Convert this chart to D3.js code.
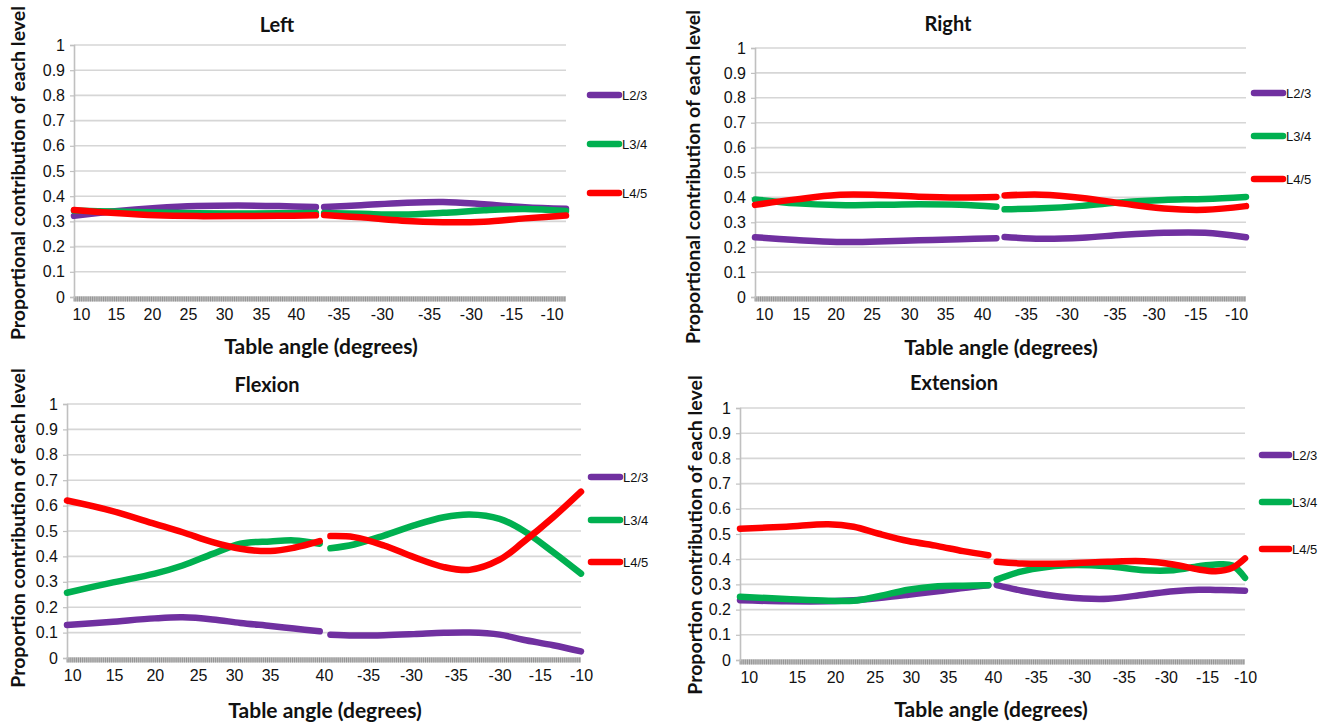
<!DOCTYPE html>
<html>
<head>
<meta charset="utf-8">
<script src="https://cdn.jsdelivr.net/npm/d3@7/dist/d3.min.js"></script>
<style>
  html, body { margin: 0; padding: 0; background: #ffffff; }
  svg { display: block; }
</style>
</head>
<body>
<svg id="chart" width="1322" height="722"></svg>
<script>
// ---------------- DATA ----------------
const seriesNames = ["L2/3", "L3/4", "L4/5"];
const xTickLabels = ["10", "15", "20", "25", "30", "35", "40", "-35", "-30", "-35", "-30", "-15", "-10"];
const yTickValues = [0, 0.1, 0.2, 0.3, 0.4, 0.5, 0.6, 0.7, 0.8, 0.9, 1];
const categoryCount = 120; // category index range 0..120 on each panel's x axis

// Left
const leftTickIdx = [1.7, 10.2, 19, 27.8, 36.6, 45.6, 54.1, 64.5, 75.1, 86.6, 96.8, 106.6, 116.5];
const leftIdxA = [0, 10, 20, 30, 40, 50, 59];
const leftIdxB = [61, 70, 80, 90, 100, 110, 120];
const leftL23A = [0.322, 0.340, 0.353, 0.361, 0.363, 0.361, 0.357];
const leftL23B = [0.357, 0.364, 0.373, 0.377, 0.368, 0.356, 0.350];
const leftL34A = [0.343, 0.339, 0.335, 0.332, 0.331, 0.332, 0.333];
const leftL34B = [0.333, 0.330, 0.327, 0.334, 0.344, 0.349, 0.341];
const leftL45A = [0.345, 0.333, 0.324, 0.321, 0.321, 0.322, 0.324];
const leftL45B = [0.325, 0.316, 0.303, 0.297, 0.299, 0.312, 0.323];

// Right
const rightTickIdx = [2.2, 11.2, 19.7, 28.5, 37.7, 46.5, 55.5, 66.2, 76.2, 87.9, 97.4, 107.6, 117.6];
const rightIdxA = [0, 10, 20, 30, 40, 50, 59];
const rightIdxB = [61, 70, 80, 90, 100, 110, 120];
const rightL23A = [0.240, 0.229, 0.221, 0.223, 0.228, 0.232, 0.236];
const rightL23B = [0.241, 0.234, 0.238, 0.250, 0.258, 0.258, 0.240];
const rightL34A = [0.392, 0.376, 0.369, 0.370, 0.372, 0.370, 0.362];
const rightL34B = [0.352, 0.356, 0.366, 0.381, 0.390, 0.394, 0.402];
const rightL45A = [0.370, 0.392, 0.410, 0.410, 0.403, 0.400, 0.402];
const rightL45B = [0.408, 0.411, 0.398, 0.375, 0.355, 0.350, 0.365];

// Flexion
const flexTickIdx = [1.2, 11, 20.5, 30.6, 39, 47.4, 60, 70.3, 80.3, 90.8, 101, 110.4, 120];
const flexIdxA = [0, 10, 20.5, 27, 34, 40.5, 47.5, 53, 59];
const flexIdxB = [61.5, 67, 74, 81, 88, 94, 101, 106.5, 113.5, 120];
const flexL23A = [0.130, 0.142, 0.156, 0.160, 0.152, 0.138, 0.126, 0.116, 0.105];
const flexL23B = [0.092, 0.089, 0.090, 0.094, 0.099, 0.100, 0.092, 0.072, 0.050, 0.026];
const flexL34A = [0.257, 0.295, 0.332, 0.364, 0.410, 0.450, 0.459, 0.463, 0.450];
const flexL34B = [0.432, 0.447, 0.482, 0.522, 0.554, 0.565, 0.548, 0.502, 0.417, 0.332];
const flexL45A = [0.620, 0.581, 0.528, 0.495, 0.456, 0.430, 0.421, 0.434, 0.460];
const flexL45B = [0.480, 0.476, 0.443, 0.397, 0.358, 0.347, 0.387, 0.456, 0.554, 0.655];

// Extension
const extTickIdx = [2.1, 13.5, 22.6, 32, 40.6, 49.4, 60.1, 70.3, 80.6, 91.2, 101.2, 111, 120];
const extIdxA = [0, 11, 21, 27, 33, 40, 47, 53, 59];
const extIdxB = [61, 67, 77.5, 87.5, 96, 103, 109, 113, 117, 120];
const extL23A = [0.237, 0.233, 0.233, 0.237, 0.246, 0.259, 0.273, 0.286, 0.297];
const extL23B = [0.297, 0.275, 0.249, 0.243, 0.259, 0.273, 0.279, 0.278, 0.277, 0.275];
const extL34A = [0.251, 0.242, 0.235, 0.235, 0.253, 0.279, 0.293, 0.295, 0.297];
const extL34B = [0.319, 0.352, 0.376, 0.372, 0.356, 0.356, 0.372, 0.379, 0.375, 0.326];
const extL45A = [0.521, 0.529, 0.539, 0.529, 0.501, 0.472, 0.452, 0.432, 0.416];
const extL45B = [0.390, 0.383, 0.383, 0.390, 0.392, 0.379, 0.359, 0.352, 0.366, 0.403];

// ---------------- STYLE / LAYOUT ----------------
const colors = ["#7030A0", "#00B050", "#FF0000"];
const titleFont = "Lato, 'Open Sans', sans-serif";
const tickFont = "'Liberation Sans', Arial, sans-serif";

const panels = [
  { title: "Left", yTitle: "Proportional contribution of each level",
    box: { x0: 74, x1: 566, yTop: 45, yBot: 297 }, titlePos: [277, 25], xTitlePos: [321, 347], yTitlePos: [18, 173],
    legend: { x0: 590, x1: 619, tx: 622, ys: [95, 144, 193] },
    ticks: leftTickIdx, idxA: leftIdxA, idxB: leftIdxB,
    vals: [[leftL23A, leftL23B], [leftL34A, leftL34B], [leftL45A, leftL45B]] },
  { title: "Right", yTitle: "Proportional contribution of each level",
    box: { x0: 755, x1: 1246, yTop: 48, yBot: 297 }, titlePos: [948, 24], xTitlePos: [1001, 348], yTitlePos: [693, 177],
    legend: { x0: 1254, x1: 1283, tx: 1286, ys: [93, 136, 179] },
    ticks: rightTickIdx, idxA: rightIdxA, idxB: rightIdxB,
    vals: [[rightL23A, rightL23B], [rightL34A, rightL34B], [rightL45A, rightL45B]] },
  { title: "Flexion", yTitle: "Proportion contribution of each level",
    box: { x0: 67, x1: 581, yTop: 404, yBot: 658 }, titlePos: [267, 385], xTitlePos: [325, 711], yTitlePos: [18, 528],
    legend: { x0: 591, x1: 620, tx: 623, ys: [477, 520, 562] },
    ticks: flexTickIdx, idxA: flexIdxA, idxB: flexIdxB,
    vals: [[flexL23A, flexL23B], [flexL34A, flexL34B], [flexL45A, flexL45B]] },
  { title: "Extension", yTitle: "Proportion contribution of each level",
    box: { x0: 740, x1: 1245, yTop: 408, yBot: 660 }, titlePos: [954, 383], xTitlePos: [991, 710], yTitlePos: [695, 535],
    legend: { x0: 1262, x1: 1289, tx: 1292, ys: [455, 502, 549] },
    ticks: extTickIdx, idxA: extIdxA, idxB: extIdxB,
    vals: [[extL23A, extL23B], [extL34A, extL34B], [extL45A, extL45B]] }
];

// ---------------- DRAW ----------------
const svg = d3.select("#chart");

panels.forEach(p => {
  const b = p.box;
  const g = svg.append("g");
  const x = d3.scaleLinear().domain([0, categoryCount]).range([b.x0, b.x1]);
  const y = d3.scaleLinear().domain([0, 1]).range([b.yBot, b.yTop]);

  // gridlines
  g.append("g").selectAll("line").data(yTickValues).join("line")
    .attr("x1", b.x0).attr("x2", b.x1)
    .attr("y1", d => y(d)).attr("y2", d => y(d))
    .attr("stroke", "#d6d6d6").attr("stroke-width", 1.6);

  // minor category ticks (dense dotted band)
  const minor = d3.range(0, categoryCount + 0.001, 0.45);
  g.append("line").attr("x1", b.x0).attr("x2", b.x1).attr("y1", y(0) + 2).attr("y2", y(0) + 2)
    .attr("stroke", "#c8c8c8").attr("stroke-width", 5);
  g.append("g").selectAll("line").data(minor).join("line")
    .attr("x1", d => x(d)).attr("x2", d => x(d))
    .attr("y1", y(0) - 0.5).attr("y2", y(0) + 4.5)
    .attr("stroke", "#8c8c8c").attr("stroke-width", 0.9);

  // y axis
  const yAxis = g.append("g").attr("transform", `translate(${b.x0},0)`)
    .call(d3.axisLeft(y).tickValues(yTickValues).tickSize(4).tickPadding(5)
      .tickFormat(d => (d === 0 ? "0" : d === 1 ? "1" : d3.format(".1f")(d))));
  yAxis.select(".domain").attr("stroke", "#c0c0c0").attr("stroke-width", 1.6);
  yAxis.selectAll(".tick line").attr("stroke", "#c0c0c0").attr("stroke-width", 1.2);
  yAxis.selectAll("text").attr("font-family", tickFont).attr("font-size", 16).attr("fill", "#111");

  // x axis labels
  const xAxis = g.append("g").attr("transform", `translate(0,${b.yBot})`)
    .call(d3.axisBottom(x).tickValues(p.ticks).tickSize(0).tickPadding(12)
      .tickFormat((d, i) => xTickLabels[i]));
  xAxis.select(".domain").remove();
  xAxis.selectAll("text").attr("font-family", tickFont).attr("font-size", 16).attr("fill", "#111");

  // series lines
  const line = d3.line().x(d => x(d[0])).y(d => y(d[1])).curve(d3.curveCatmullRom.alpha(0.5));
  p.vals.forEach((pair, si) => {
    [[p.idxA, pair[0]], [p.idxB, pair[1]]].forEach(([idx, v]) => {
      g.append("path")
        .datum(idx.map((k, i) => [k, v[i]]))
        .attr("d", line)
        .attr("fill", "none")
        .attr("stroke", colors[si])
        .attr("stroke-width", 6.5)
        .attr("stroke-linecap", "round")
        .attr("stroke-linejoin", "round");
    });
  });

  // legend
  seriesNames.forEach((name, si) => {
    const ly = p.legend.ys[si];
    g.append("line").attr("x1", p.legend.x0).attr("x2", p.legend.x1).attr("y1", ly).attr("y2", ly)
      .attr("stroke", colors[si]).attr("stroke-width", 6.5).attr("stroke-linecap", "round");
    g.append("text").attr("x", p.legend.tx).attr("y", ly).attr("dy", "0.35em")
      .attr("font-family", tickFont).attr("font-size", 13).attr("fill", "#111").text(name);
  });

  // titles
  g.append("text").attr("x", p.titlePos[0]).attr("y", p.titlePos[1]).attr("dy", "0.35em")
    .attr("text-anchor", "middle").attr("font-family", titleFont).attr("font-weight", "bold")
    .attr("font-size", 20).attr("fill", "#111").text(p.title);
  g.append("text").attr("x", p.xTitlePos[0]).attr("y", p.xTitlePos[1]).attr("dy", "0.35em")
    .attr("text-anchor", "middle").attr("font-family", titleFont).attr("font-weight", "bold")
    .attr("font-size", 21).attr("fill", "#111").text("Table angle (degrees)");
  g.append("text")
    .attr("transform", `translate(${p.yTitlePos[0]},${p.yTitlePos[1]}) rotate(-90)`)
    .attr("dy", "0.35em").attr("text-anchor", "middle").attr("font-family", titleFont)
    .attr("font-weight", "bold").attr("font-size", 19.5).attr("fill", "#111").text(p.yTitle);
});
</script>
</body>
</html>
